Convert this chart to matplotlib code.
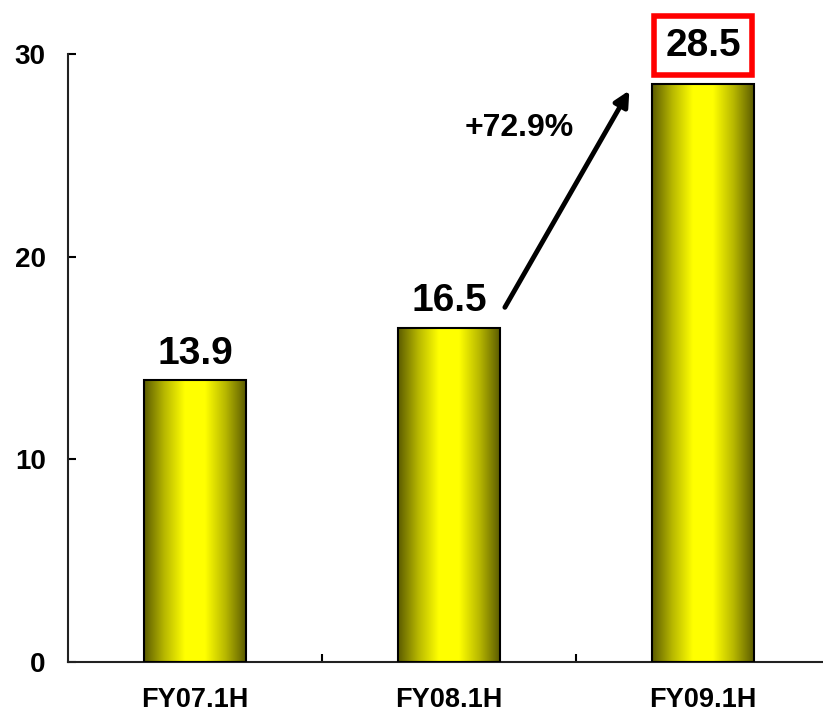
import numpy as np
import matplotlib.pyplot as plt
from matplotlib.colors import LinearSegmentedColormap

plt.rcParams['font.family'] = ['Liberation Sans', 'DejaVu Sans']
plt.rcParams['font.weight'] = 'bold'

periods = ["FY07.1H", "FY08.1H", "FY09.1H"]
sales = [13.9, 16.5, 28.5]
growth_label = "+72.9%"
y_ticks = [0, 10, 20, 30]

fig = plt.figure(figsize=(8.23, 7.13), dpi=100)
ax = fig.add_axes([68 / 823, 51 / 713, 762 / 823, 608 / 713])

x = np.arange(len(periods))
bars = ax.bar(x, sales, width=0.4, color='none', edgecolor='black',
              linewidth=1.5, zorder=3)

# horizontal gradient: olive edges, bright yellow centre
grad_cmap = LinearSegmentedColormap.from_list(
    "gold", ["#5c5c00", "#b8b800", "#ffff00", "#ffff00", "#b8b800", "#5c5c00"])
grad = np.linspace(0, 1, 256).reshape(1, -1)
for bar in bars:
    x0, y0 = bar.get_x(), bar.get_y()
    w, h = bar.get_width(), bar.get_height()
    im = ax.imshow(grad, cmap=grad_cmap, aspect='auto',
                   extent=[x0, x0 + w, y0, y0 + h], zorder=2)
    im.set_clip_path(bar)

ax.set_xlim(-0.5, 2.5)
ax.set_ylim(0, 30)

# value labels
for i, v in enumerate(sales[:2]):
    ax.annotate(f"{v}", (x[i], v), xytext=(0, 6), textcoords='offset points',
                ha='center', va='bottom', fontsize=28, fontweight='bold')
ax.annotate(f"{sales[2]}", (x[2], sales[2]), xytext=(0, 28),
            textcoords='offset points', ha='center', va='center',
            fontsize=28, fontweight='bold',
            bbox=dict(boxstyle='square,pad=0.3', fc='white', ec='red', lw=4))

# growth arrow
ax.annotate("", xy=(1.71, 28.2), xytext=(1.22, 17.5),
            arrowprops=dict(arrowstyle='-|>,head_length=0.9,head_width=0.45',
                            color='black', lw=3.5, shrinkA=0, shrinkB=0))
ax.text(1.276, 26.35, growth_label, ha='center', va='center',
        fontsize=23, fontweight='bold')

ax.spines['top'].set_visible(False)
ax.spines['right'].set_visible(False)
for s in ('left', 'bottom'):
    ax.spines[s].set_linewidth(1.5)
    ax.spines[s].set_color('#222222')

ax.set_yticks(y_ticks)
ax.tick_params(axis='y', direction='in', length=6, width=1.5, pad=16,
               labelsize=20)
ax.set_xticks([0.5, 1.5])
ax.set_xticks(x, minor=True)
ax.set_xticklabels(periods, minor=True, fontsize=19.5, fontweight='bold')
ax.set_xticklabels([])
ax.tick_params(axis='x', which='major', direction='in', length=6, width=1.5)
ax.tick_params(axis='x', which='minor', length=0, pad=18)
for lbl in ax.get_yticklabels():
    lbl.set_fontweight('bold')

fig.savefig("out.png", dpi=100)
